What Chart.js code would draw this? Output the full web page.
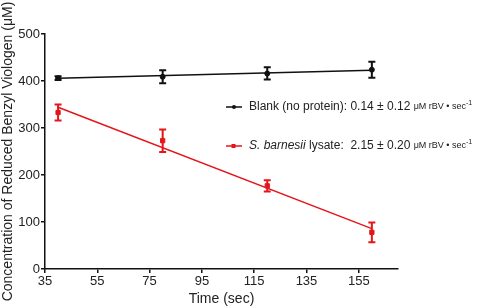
<!DOCTYPE html>
<html>
<head>
<meta charset="utf-8">
<script src="https://cdn.jsdelivr.net/npm/chart.js@4/dist/chart.umd.min.js"></script>
<style>
  html, body { margin: 0; padding: 0; background: #fff; }
  #chart { display: block; }
</style>
</head>
<body>
<canvas id="chart" width="490" height="308"></canvas>
<script>
// --- Datos ---
const times = [40, 80, 120, 160];
const blankMean = [406, 409, 416, 424];
const blankErr = [4, 14, 13, 17];
const lysateMean = [333, 273, 177, 78];
const lysateErr = [17, 24, 12, 21];

// rectas de regresión (extremos)
const fitX = [40, 160];
const blankFit = [406, 423];
const lysateFit = [344, 86];

const xTicks = [35, 55, 75, 95, 115, 135, 155];
const yTicks = [0, 100, 200, 300, 400, 500];

const RED = "#e3161b";
const BLACK = "#111";
const FONT = "'Liberation Sans', Arial, sans-serif";

const pts = (xs, ys) => xs.map((x, i) => ({ x, y: ys[i] }));

// --- Barras de error ---
const errorBars = {
  id: "errorBars",
  afterDatasetsDraw(chart) {
    const { ctx, scales: { x, y } } = chart;
    const series = [
      { mean: blankMean, err: blankErr, color: BLACK },
      { mean: lysateMean, err: lysateErr, color: RED },
    ];
    ctx.save();
    ctx.lineWidth = 2;
    series.forEach((s) => {
      ctx.strokeStyle = s.color;
      times.forEach((t, i) => {
        const px = x.getPixelForValue(t);
        const top = y.getPixelForValue(s.mean[i] + s.err[i]);
        const bot = y.getPixelForValue(s.mean[i] - s.err[i]);
        ctx.beginPath();
        ctx.moveTo(px, top); ctx.lineTo(px, bot);
        ctx.moveTo(px - 3.5, top); ctx.lineTo(px + 3.5, top);
        ctx.moveTo(px - 3.5, bot); ctx.lineTo(px + 3.5, bot);
        ctx.stroke();
      });
    });
    ctx.restore();
  },
};

// --- Leyenda con texto mixto ---
const legendPlugin = {
  id: "mixedLegend",
  afterDraw(chart) {
    const ctx = chart.ctx;
    const rows = [
      {
        y: 107, color: BLACK, square: false,
        parts: [
          { t: "Blank (no protein): 0.14 \u00b1 0.12 ", f: "12px " + FONT },
          { t: "\u03bcM rBV \u2022 sec", f: "9px " + FONT },
          { t: "-1", f: "7px " + FONT, up: 4 },
        ],
      },
      {
        y: 146, color: RED, square: true,
        parts: [
          { t: "S. barnesii", f: "italic 12px " + FONT },
          { t: " lysate:  2.15 \u00b1 0.20 ", f: "12px " + FONT },
          { t: "\u03bcM rBV \u2022 sec", f: "9px " + FONT },
          { t: "-1", f: "7px " + FONT, up: 4 },
        ],
      },
    ];
    ctx.save();
    rows.forEach((r) => {
      ctx.strokeStyle = r.color;
      ctx.fillStyle = r.color;
      ctx.lineWidth = 1.5;
      ctx.beginPath();
      ctx.moveTo(226, r.y); ctx.lineTo(242, r.y);
      ctx.stroke();
      if (r.square) ctx.fillRect(231.5, r.y - 2, 4, 4);
      else { ctx.beginPath(); ctx.arc(234, r.y, 2, 0, Math.PI * 2); ctx.fill(); }

      let cx = 249;
      ctx.fillStyle = "#222";
      ctx.textBaseline = "middle";
      r.parts.forEach((p) => {
        ctx.font = p.f;
        ctx.fillText(p.t, cx, r.y - (p.up || 0));
        cx += ctx.measureText(p.t).width;
      });
    });
    ctx.restore();
  },
};

const axisCommon = {
  border: { display: true, color: BLACK, width: 1.5 },
  grid: { display: true, drawOnChartArea: false, drawTicks: true, tickLength: 4, color: BLACK, lineWidth: 1.5 },
  ticks: { color: "#222", font: { family: FONT, size: 13 }, padding: 1 },
};

new Chart(document.getElementById("chart"), {
  type: "scatter",
  data: {
    datasets: [
      { type: "line", data: pts(fitX, blankFit), borderColor: BLACK, borderWidth: 1.5, pointRadius: 0, fill: false },
      { type: "line", data: pts(fitX, lysateFit), borderColor: RED, borderWidth: 1.5, pointRadius: 0, fill: false },
      { data: pts(times, blankMean), backgroundColor: BLACK, borderColor: BLACK, pointRadius: 2.5, pointStyle: "circle" },
      { data: pts(times, lysateMean), backgroundColor: RED, borderColor: RED, pointRadius: 3, pointStyle: "rect" },
    ],
  },
  options: {
    responsive: false,
    animation: false,
    devicePixelRatio: 1,
    layout: { padding: { top: 34, right: 92, left: 0, bottom: 0 } },
    plugins: { legend: { display: false }, tooltip: { enabled: false } },
    scales: {
      x: {
        ...axisCommon,
        type: "linear",
        min: 35,
        max: 170,
        afterBuildTicks: (s) => { s.ticks = xTicks.map((v) => ({ value: v })); },
        afterFit: (s) => { s.height = 39; },
        title: { display: true, text: "Time (sec)", color: "#222", font: { family: FONT, size: 14 }, padding: 0 },
      },
      y: {
        ...axisCommon,
        min: 0,
        max: 500,
        afterBuildTicks: (s) => { s.ticks = yTicks.map((v) => ({ value: v })); },
        afterFit: (s) => { s.width = 45; },
        title: { display: true, text: "Concentration of Reduced Benzyl Viologen (\u03bcM)", color: "#222", font: { family: FONT, size: 14 }, padding: 0 },
      },
    },
  },
  plugins: [errorBars, legendPlugin],
});
</script>
</body>
</html>
